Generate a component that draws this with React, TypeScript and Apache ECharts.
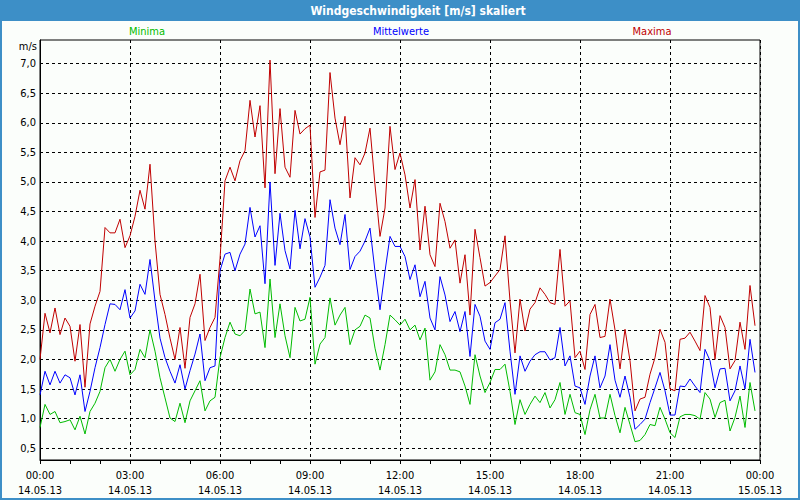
import React, { useEffect, useRef } from "react";
import * as echarts from "echarts";

const TITLE = "Windgeschwindigkeit [m/s] skaliert";
const UNIT = "m/s";
const SERIES_NAMES = ["Minima", "Mittelwerte", "Maxima"];
const DATE_LABELS = ["14.05.13", "15.05.13"];
const SAMPLE_MINUTES = 10;

const maxima = [
  2.0, 2.78, 2.45, 2.87, 2.42, 2.7, 2.56, 1.97, 2.59, 1.53,
  2.6, 2.9, 3.15, 4.23, 4.14, 4.14, 4.37, 3.89, 4.09, 4.42,
  4.86, 4.54, 5.3, 4.0, 3.1, 2.76, 2.36, 2.0, 2.54, 1.85,
  2.71, 2.94, 3.44, 2.32, 2.54, 2.71, 3.7, 5.02, 5.25, 5.02,
  5.36, 5.53, 6.38, 5.76, 6.29, 4.9, 7.06, 5.14, 6.24, 5.25,
  5.08, 6.21, 5.81, 5.9, 5.96, 4.4, 5.17, 5.2, 6.85, 6.08,
  5.63, 6.11, 4.73, 5.41, 5.29, 5.49, 5.91, 4.95, 4.08, 4.56,
  5.94, 5.21, 5.49, 5.12, 4.56, 5.04, 3.85, 4.59, 3.77, 3.57,
  4.64, 4.33, 3.88, 4.02, 3.29, 3.77, 2.75, 4.2, 3.72, 3.24,
  3.3, 3.41, 3.52, 4.09, 2.99, 2.11, 3.02, 2.48, 2.85, 2.96,
  3.21, 3.1, 2.96, 2.93, 3.86, 2.9, 2.99, 2.03, 2.14, 1.83,
  2.76, 2.93, 2.37, 2.39, 3.02, 2.5, 1.84, 2.51, 1.98, 1.13,
  1.33, 1.36, 1.75, 2.03, 2.51, 2.29, 1.5, 1.47, 2.34, 2.36,
  2.46, 2.31, 2.15, 3.08, 2.88, 2.0, 2.74, 2.54, 1.84, 1.98,
  2.63, 2.17, 3.25, 2.57,
];

const mittelwerte = [
  1.4, 1.8, 1.57, 1.8, 1.6, 1.74, 1.69, 1.4, 1.74, 1.12,
  1.46, 1.86, 2.2, 2.59, 2.94, 2.93, 2.84, 3.18, 2.7, 2.82,
  3.27, 3.1, 3.69, 2.99, 2.36, 2.03, 1.8, 1.6, 1.91, 1.5,
  1.81, 2.09, 2.43, 1.64, 1.86, 1.89, 3.5, 3.78, 3.81, 3.5,
  3.78, 3.95, 4.57, 4.07, 4.26, 3.28, 5.0, 3.59, 4.47, 3.84,
  3.53, 4.52, 3.87, 4.38, 4.07, 3.22, 3.39, 3.59, 4.7, 4.22,
  3.94, 4.45, 3.52, 3.74, 3.83, 4.0, 4.22, 3.49, 2.84, 3.49,
  4.08, 3.91, 3.91, 3.74, 3.35, 3.6, 3.06, 3.32, 2.7, 2.5,
  3.4, 3.09, 2.64, 2.81, 2.47, 2.81, 2.05, 2.93, 2.73, 2.31,
  2.17, 2.62, 2.68, 2.96, 2.14, 1.41, 2.06, 1.8, 1.97, 2.08,
  2.13, 2.13, 1.99, 2.03, 2.54, 1.89, 2.06, 1.55, 1.52, 1.24,
  1.72, 2.06, 1.52, 1.72, 2.25, 1.65, 1.36, 1.72, 1.36, 0.82,
  0.9, 0.99, 1.27, 1.52, 1.78, 1.47, 1.06, 1.06, 1.55, 1.54,
  1.67, 1.55, 1.44, 2.17, 1.98, 1.52, 1.84, 1.85, 1.3, 1.47,
  1.89, 1.5, 2.34, 1.78,
];

const minima = [
  0.85, 1.24, 1.07, 1.12, 0.93, 0.95, 0.98, 0.81, 1.04, 0.74,
  1.12, 1.26, 1.46, 1.86, 2.0, 1.8, 2.0, 2.14, 1.74, 1.83,
  2.17, 2.03, 2.5, 2.14, 1.69, 1.35, 1.01, 0.95, 1.26, 0.93,
  1.3, 1.47, 1.64, 1.13, 1.3, 1.36, 2.03, 2.37, 2.63, 2.43,
  2.4, 2.49, 3.19, 2.77, 2.8, 2.2, 3.36, 2.37, 2.94, 2.4,
  2.03, 2.88, 2.65, 2.68, 3.05, 1.92, 2.26, 2.37, 3.04, 2.58,
  2.75, 2.88, 2.25, 2.5, 2.56, 2.75, 2.7, 2.19, 1.82, 2.25,
  2.75, 2.67, 2.58, 2.68, 2.5, 2.58, 2.33, 2.53, 1.65, 1.79,
  2.25, 2.08, 1.82, 1.82, 1.79, 1.55, 1.24, 2.08, 1.72, 1.44,
  1.61, 1.83, 1.83, 1.92, 1.46, 0.9, 1.32, 1.07, 1.24, 1.38,
  1.27, 1.44, 1.18, 1.32, 1.61, 1.07, 1.41, 1.1, 1.07, 0.73,
  1.15, 1.41, 1.01, 1.01, 1.41, 1.05, 0.76, 1.19, 0.9, 0.61,
  0.63, 0.73, 0.9, 0.88, 1.19, 0.99, 0.76, 0.68, 1.03, 1.07,
  1.07, 1.05, 0.99, 1.44, 1.33, 1.02, 1.27, 1.31, 0.79, 1.02,
  1.38, 0.85, 1.61, 1.13,
];

const COLORS = { min: "#00bb00", mean: "#0000ff", max: "#c00000" };
const FONT = "'DejaVu Sans Condensed', 'Liberation Sans', sans-serif";
const FRAME = "#3d8fc7";

const toPairs = (arr: number[]) => arr.map((v, i) => [(i * SAMPLE_MINUTES) / 60, v]);

export default function App() {
  const ref = useRef<HTMLDivElement>(null);
  useEffect(() => {
    if (!ref.current) return;
    const chart = echarts.init(ref.current, undefined, { renderer: "svg" });
    const t = "rgba(0,0,0,0)";
    chart.setOption({
      animation: false,
      backgroundColor: "#fbfefb",
      grid: { left: 40, right: 40, top: 40, bottom: 40, show: true, borderColor: "#000", borderWidth: 1, backgroundColor: "#fbfefb" },
      xAxis: {
        type: "value",
        min: 0,
        max: 24,
        interval: 3,
        axisLine: { show: true, lineStyle: { color: "#000", width: 1 } },
        axisTick: { show: true, inside: false, length: 4, lineStyle: { color: "#000" } },
        minorTick: { show: true, splitNumber: 3, length: 4, lineStyle: { color: "#000" } },
        splitLine: { show: true, lineStyle: { color: "#000", type: [3, 3], width: 1 } },
        axisLabel: {
          margin: 8,
          color: "#000",
          fontSize: 11,
          fontFamily: FONT,
          lineHeight: 15,
          formatter: (v: number) => {
            const h = Math.round(v) % 24;
            const d = v < 24 ? DATE_LABELS[0] : DATE_LABELS[1];
            return `${String(h).padStart(2, "0")}:00\n${d}`;
          },
        },
      },
      yAxis: {
        type: "value",
        min: 0.3,
        max: 7.4,
        interval: 0.1,
        axisLine: { show: true, lineStyle: { color: "#000", width: 1 } },
        axisTick: { show: false },
        splitLine: { show: true, lineStyle: { color: [t, t, "#000", t, t], type: [3, 3], width: 1 } },
        axisLabel: {
          margin: 4,
          color: "#000",
          fontSize: 11,
          fontFamily: FONT,
          formatter: (v: number) => {
            const k = Math.round(v * 10);
            if (k % 5 !== 0) return "";
            return (k / 10).toFixed(1).replace(".", ",");
          },
        },
      },
      series: [
        { name: SERIES_NAMES[0], type: "line", data: toPairs(minima), showSymbol: false, symbol: "none", lineStyle: { color: COLORS.min, width: 1 }, itemStyle: { color: COLORS.min } },
        { name: SERIES_NAMES[1], type: "line", data: toPairs(mittelwerte), showSymbol: false, symbol: "none", lineStyle: { color: COLORS.mean, width: 1 }, itemStyle: { color: COLORS.mean } },
        { name: SERIES_NAMES[2], type: "line", data: toPairs(maxima), showSymbol: false, symbol: "none", lineStyle: { color: COLORS.max, width: 1 }, itemStyle: { color: COLORS.max } },
      ],
      graphic: [
        { type: "rect", shape: { x: 0, y: 0, width: 800, height: 21 }, style: { fill: FRAME }, z: 10 },
        { type: "rect", shape: { x: 1, y: 1, width: 798, height: 498 }, style: { fill: "none", stroke: FRAME, lineWidth: 2 }, z: 10 },
        { type: "text", style: { text: TITLE, x: 418, y: 11, align: "center", verticalAlign: "middle", fill: "#fff", font: `bold 12px ${FONT}` }, z: 11 },
        { type: "text", style: { text: SERIES_NAMES[0], x: 147, y: 31, align: "center", verticalAlign: "middle", fill: COLORS.min, font: `11px ${FONT}` } },
        { type: "text", style: { text: SERIES_NAMES[1], x: 401, y: 31, align: "center", verticalAlign: "middle", fill: COLORS.mean, font: `11px ${FONT}` } },
        { type: "text", style: { text: SERIES_NAMES[2], x: 652, y: 31, align: "center", verticalAlign: "middle", fill: COLORS.max, font: `11px ${FONT}` } },
        { type: "text", style: { text: UNIT, x: 37, y: 46, align: "right", verticalAlign: "middle", fill: "#000", font: `11px ${FONT}` } },
      ],
    });
    return () => chart.dispose();
  }, []);
  return <div ref={ref} style={{ position: "fixed", left: 0, top: 0, width: 800, height: 500 }} />;
}
